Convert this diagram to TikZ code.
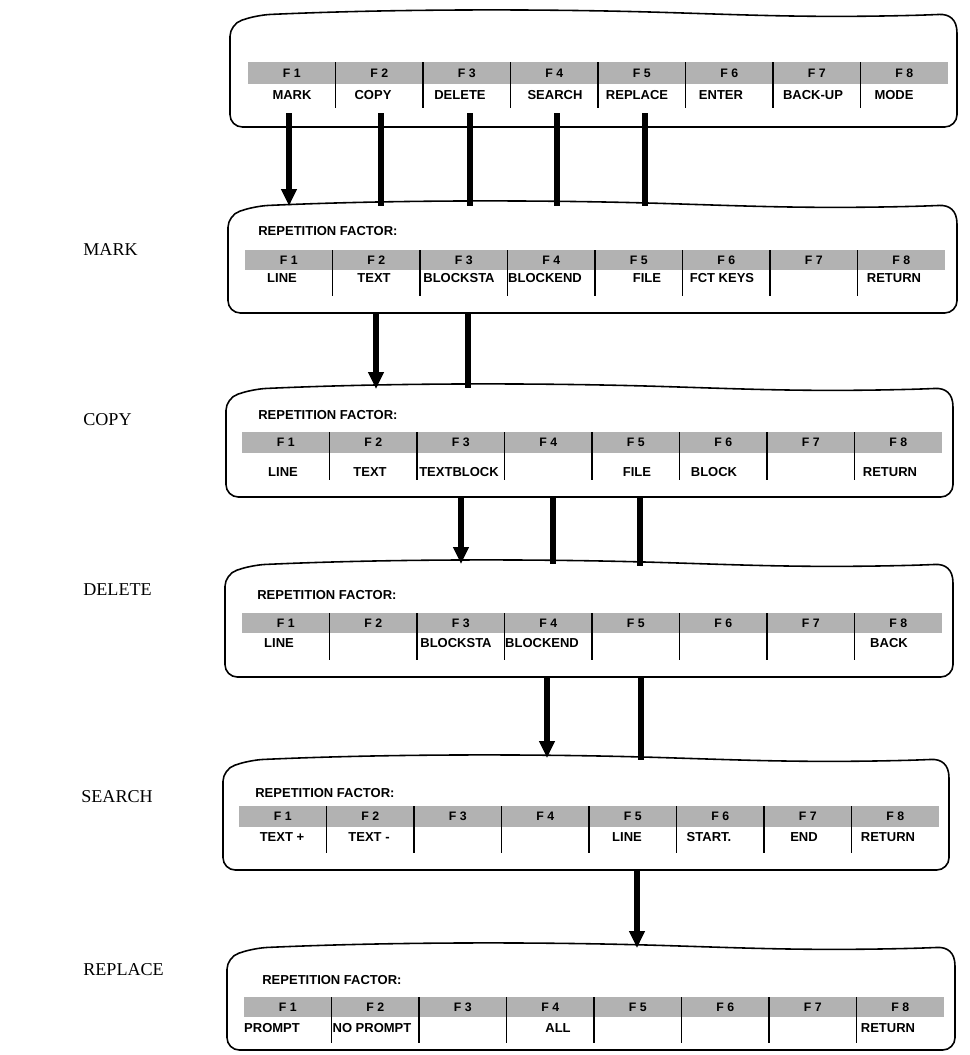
\documentclass[tikz,border=0pt]{standalone}
\usepackage{fontspec}
\setmainfont{Liberation Serif}
\setsansfont{Liberation Sans}
\usetikzlibrary{arrows.meta}

\tikzset{
  frame/.style={line width=0.9pt, rounded corners=7pt},
  keyband/.style={fill=black!30},
  keydiv/.style={line width=0.6pt},
  keyname/.style={font=\sffamily\bfseries\fontsize{7}{8}\selectfont, inner sep=0pt},
  keylabel/.style={font=\sffamily\bfseries\fontsize{7.4}{8}\selectfont, inner sep=0pt},
  repfactor/.style={font=\sffamily\bfseries\fontsize{7.4}{8}\selectfont, anchor=west, inner sep=0pt},
  menuname/.style={font=\fontsize{10.3}{12}\selectfont, anchor=west, inner sep=0pt},
  flow/.style={line width=3pt},
  flowarrow/.style={flow, -{Triangle[length=0.34cm, width=0.3cm]}},
}

% menu frame with a wobbly top edge: left, right, top, bottom
\newcommand{\menuframe}[4]{%
  \draw[frame] (#2,#3+22) -- (#2,#4) -- (#1,#4) -- (#1,#3+13) -- (#1+28,#3+4)
    .. controls (#1+160,#3-2) and (#1+300,#3-2) .. (#1+420,#3+1)
    .. controls (#1+520,#3+4) and (#1+580,#3+7) .. (#2-30,#3+4)
    .. controls (#2-8,#3+3) and (#2,#3+8) .. (#2,#3+22);
}

% grey strip with the eight function keys: name, left, top, bottom, divider end
\newcommand{\keystrip}[5]{%
  \fill[keyband] (#2,#3) rectangle (#2+700,#4);
  \foreach \k in {1,...,7}
    \draw[keydiv] (#2+87.5*\k,#3) -- (#2+87.5*\k,#5);
  \foreach \k in {1,...,8}
    \node[keyname] (#1-f\k) at (#2+87.5*\k-43.75,{(#3+#4)/2}) {F \k};
}

\begin{document}
\begin{tikzpicture}[x=0.02cm, y=-0.02cm]
\useasboundingbox (0,0) rectangle (970,1055);

% lines between the menus, drawn first so the frames sit on top
\foreach \x/\n in {289/mark,381/copy,470/delete,557/search,645/replace} {
  \coordinate (\n-a) at (\x,113);
  \coordinate (\n-b) at (\x,206);
}
\draw[flowarrow] (mark-a) -- (mark-b);
\draw[flow] (copy-a) -- (copy-b);
\draw[flow] (delete-a) -- (delete-b);
\draw[flow] (search-a) -- (search-b);
\draw[flow] (replace-a) -- (replace-b);

\coordinate (copy-c) at (376,313);
\coordinate (copy-d) at (376,389);
\coordinate (delete-c) at (468,313);
\coordinate (delete-d) at (468,388);
\draw[flowarrow] (copy-c) -- (copy-d);
\draw[flow] (delete-c) -- (delete-d);

\coordinate (delete-e) at (461,497);
\coordinate (delete-f) at (461,564);
\coordinate (search-e) at (553,497);
\coordinate (search-f) at (553,564);
\coordinate (replace-e) at (640,497);
\coordinate (replace-f) at (640,566);
\draw[flowarrow] (delete-e) -- (delete-f);
\draw[flow] (search-e) -- (search-f);
\draw[flow] (replace-e) -- (replace-f);

\coordinate (search-g) at (547,677);
\coordinate (search-h) at (547,758);
\coordinate (replace-g) at (641,677);
\coordinate (replace-h) at (641,760);
\draw[flowarrow] (search-g) -- (search-h);
\draw[flow] (replace-g) -- (replace-h);

\coordinate (replace-i) at (637,870);
\coordinate (replace-j) at (637,948);
\draw[flowarrow] (replace-i) -- (replace-j);

% main menu
\menuframe{230}{957}{11}{127}
\keystrip{main}{248}{62}{84}{108}
\foreach \x/\t [count=\i] in {292/MARK,373/COPY,460/DELETE,555/SEARCH,637/REPLACE,721/ENTER,813/BACK-UP,894/MODE}
  \node[keylabel] (main-k\i) at (\x,95) {\t};

% mark
\node[menuname] (mark) at (83,250) {MARK};
\menuframe{228}{957}{202}{313}
\node[repfactor] (mark-rep) at (258,231) {REPETITION FACTOR:};
\keystrip{markmenu}{245}{250}{270}{296}
\foreach \x/\t [count=\i] in {282/LINE,374/TEXT,459/BLOCKSTA,545/BLOCKEND,647/FILE,722/FCT KEYS,894/RETURN}
  \node[keylabel] (mark-k\i) at (\x,278) {\t};

% copy
\node[menuname] (copy) at (83,420) {COPY};
\menuframe{226}{953}{385}{497}
\node[repfactor] (copy-rep) at (258,415) {REPETITION FACTOR:};
\keystrip{copymenu}{242}{432}{453}{480}
\foreach \x/\t [count=\i] in {283/LINE,370/TEXT,459/TEXTBLOCK,637/FILE,714/BLOCK,890/RETURN}
  \node[keylabel] (copy-k\i) at (\x,472) {\t};

% delete
\node[menuname] (delete) at (83,590) {DELETE};
\menuframe{225}{953}{561}{677}
\node[repfactor] (delete-rep) at (257,595) {REPETITION FACTOR:};
\keystrip{deletemenu}{242}{613}{633}{660}
\foreach \x/\t [count=\i] in {279/LINE,456/BLOCKSTA,542/BLOCKEND,889/BACK}
  \node[keylabel] (delete-k\i) at (\x,643) {\t};

% search
\node[menuname] (search) at (81,797) {SEARCH};
\menuframe{223}{949}{756}{870}
\node[repfactor] (search-rep) at (255,793) {REPETITION FACTOR:};
\keystrip{searchmenu}{239}{806}{827}{853}
\foreach \x/\t [count=\i] in {282/TEXT +,369/TEXT -,627/LINE,709/START.,804/END,888/RETURN}
  \node[keylabel] (search-k\i) at (\x,837) {\t};

% replace
\node[menuname] (replace) at (83,970) {REPLACE};
\menuframe{227}{955}{944}{1050}
\node[repfactor] (replace-rep) at (262,980) {REPETITION FACTOR:};
\keystrip{replacemenu}{244}{997}{1017}{1043}
\foreach \x/\t [count=\i] in {272/PROMPT,372/NO PROMPT,558/ALL,888/RETURN}
  \node[keylabel] (replace-k\i) at (\x,1028) {\t};

\end{tikzpicture}
\end{document}
